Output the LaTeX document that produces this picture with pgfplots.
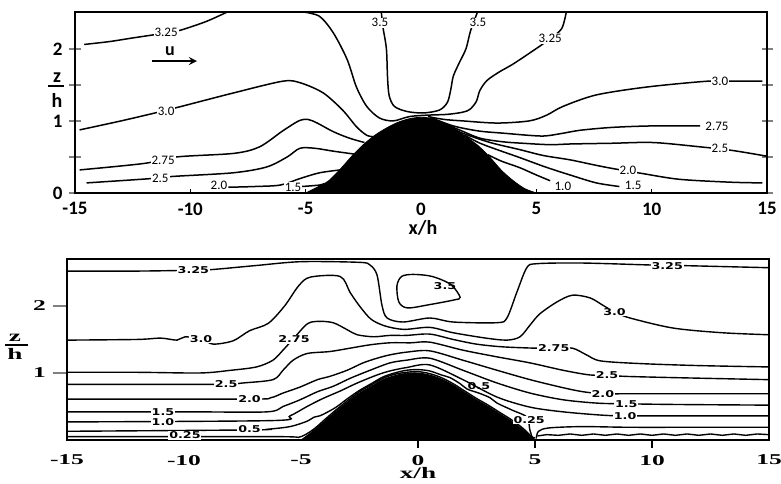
\documentclass[border=0pt]{standalone}
\usepackage{pgfplots}
\pgfplotsset{compat=1.18}
\usepackage{fontspec}
\setmainfont{Carlito}
\newfontfamily\wserif[FakeStretch=1.7]{Liberation Serif}
\newfontfamily\wsans[FakeStretch=1.35]{DejaVu Sans}
\begin{document}
\begin{tikzpicture}[>=stealth]
\useasboundingbox (0,0) rectangle (390.5pt,241.5pt);
\tikzset{
 cl/.style={black, line width=0.75pt, smooth, tension=0.5, mark=none},
 cb/.style={black, line width=0.7pt, smooth, tension=0.5, mark=none},
 lt/.style={fill=white, inner sep=0.5pt, font=\fontsize{6.5}{7}\selectfont},
 lb/.style={fill=white, inner sep=0.4pt, font=\wsans\bfseries\fontsize{4.7}{5}\selectfont},
}
% ---------------- TOP ----------------
\begin{axis}[
 at={(37.5pt,145pt)}, anchor=south west, scale only axis, width=346pt, height=90.5pt,
 xmin=-15, xmax=15, ymin=0, ymax=2.51, clip=false,
 axis line style={line width=1.1pt},
 xtick={-15,-10,-5,0,5,10,15}, xticklabels={-15,-10,-5,0,5,10,15}, xtick style={draw=none},
 ytick={0,0.5,1,1.5,2}, yticklabels={0,,1,,2}, ytick pos=both, yticklabel pos=left,
 tick align=center, major tick length=5.5pt, ytick style={line width=0.8pt},
 tick label style={font=\bfseries\fontsize{9.5}{10}\selectfont},
 xticklabel style={yshift=1.5pt},
 /pgf/number format/assume math mode=true,
]
% 3.25 left
\addplot[cl] coordinates {(-14.6,2.06) (-13.5,2.1) (-12.5,2.15) (-11.05,2.22) (-10.4,2.26) (-9.3,2.38) (-8.4,2.51)};
% 3.25 U (outer)
\addplot[cl] coordinates {(-5.1,2.51) (-4.4,2.45) (-3.8,2.22) (-3.2,1.85) (-2.8,1.47) (-2.35,1.2) (-1.8,1.04) (-1.2,1.0) (-0.5,1.06) (0.3,1.08) (1.13,1.09) (1.8,1.12) (2.12,1.16) (2.4,1.27) (2.55,1.42) (2.86,1.56) (3.4,1.68) (4.0,1.79) (5.03,2.01) (5.6,2.14) (6.1,2.28) (6.3,2.51)};
% 3.5 U
\addplot[cl] coordinates {(-1.72,2.51) (-1.65,2.3) (-1.5,2.0) (-1.45,1.6) (-1.38,1.35) (-1.15,1.2) (-0.6,1.13) (0.1,1.11) (0.8,1.15) (1.15,1.26) (1.3,1.45) (1.4,1.62) (1.65,1.8) (1.95,2.0) (2.15,2.25) (2.45,2.51)};
% 3.0
\addplot[cl] coordinates {(-14.8,0.875) (-13,1.0) (-11.4,1.12) (-10.4,1.2) (-8.1,1.39) (-6.0,1.55) (-5.25,1.53) (-4.25,1.39) (-3.4,1.15) (-2.8,0.92) (-2.35,0.8) (-2.0,0.78)};
\addplot[cl] coordinates {(0.3,1.06) (1.0,1.02) (1.8,1.0) (3.3,0.97) (4.7,1.0) (5.45,1.08) (6.15,1.2) (7.6,1.36) (9.8,1.47) (12.4,1.55) (13.5,1.55) (14.8,1.55)};
% 2.75
\addplot[cl] coordinates {(-14.8,0.32) (-12.0,0.41) (-10.6,0.5) (-8.1,0.55) (-7.0,0.64) (-6.0,0.86) (-5.3,1.0) (-4.9,1.02) (-4.5,0.97) (-3.8,0.85) (-3.1,0.76) (-2.45,0.7)};
\addplot[cl] coordinates {(0.4,1.05) (1.4,0.93) (2.5,0.86) (3.55,0.83) (5.2,0.79) (6.0,0.82) (6.9,0.87) (8.3,0.91) (10,0.93) (12.1,0.93)};
% 2.5
\addplot[cl] coordinates {(-14.5,0.14) (-11.7,0.2) (-10.75,0.23) (-8.15,0.28) (-6.7,0.36) (-5.8,0.5) (-5.25,0.62) (-4.6,0.62) (-3.8,0.58) (-2.9,0.54)};
\addplot[cl] coordinates {(0.5,1.03) (1.1,0.95) (1.7,0.87) (2.56,0.76) (3.55,0.71) (4.4,0.69) (5.6,0.67) (6.5,0.68) (8.3,0.69) (10.06,0.7) (12.1,0.64) (13.5,0.59) (15,0.51)};
% 2.0
\addplot[cl] coordinates {(-8.35,0.08) (-7.2,0.09) (-6.1,0.11) (-5.25,0.2) (-4.4,0.28) (-3.5,0.32)};
\addplot[cl] coordinates {(0.6,1.01) (1.0,0.95) (1.8,0.83) (3.0,0.7) (4.3,0.6) (5.3,0.52) (6.46,0.46) (7.5,0.39) (8.3,0.34) (9.6,0.27) (11.2,0.19) (13.4,0.15) (14.8,0.14)};
% 1.5
\addplot[cl] coordinates {(-5.16,0.09) (-4.4,0.11) (-4.2,0.13)};
\addplot[cl] coordinates {(1.9,0.8) (2.56,0.69) (3.4,0.59) (4.29,0.49) (5.4,0.36) (6.46,0.25) (7.6,0.14) (8.6,0.09)};
% 1.0
\addplot[cl] coordinates {(2.9,0.53) (3.5,0.44) (4.29,0.35) (5.0,0.25) (5.6,0.17)};
% hill
\addplot[fill=black, draw=black, smooth, tension=0.5] coordinates {(-5,0) (-4.5,0.08) (-4,0.17) (-3.5,0.33) (-3,0.51) (-2.5,0.67) (-2,0.8) (-1.5,0.9) (-1,0.98) (-0.5,1.03) (0,1.05) (0.5,1.03) (1,0.96) (1.5,0.88) (2,0.77) (2.5,0.65) (3,0.49) (3.5,0.31) (4,0.17) (4.5,0.06) (5,0)} \closedcycle;
% small x ticks
\draw[line width=0.8pt] (axis cs:-10,0) -- (axis cs:-10,0.05);
\draw[line width=0.8pt] (axis cs:-5,0) -- (axis cs:-5,0.05);
\draw[line width=0.8pt] (axis cs:5,0) -- (axis cs:5,0.05);
\draw[line width=0.8pt] (axis cs:10,0) -- (axis cs:10,0.05);
% labels
\node[lt] at (axis cs:-11.05,2.23) {3.25};
\node[lt] at (axis cs:-1.78,2.36) {3.5};
\node[lt] at (axis cs:2.47,2.36) {3.5};
\node[lt] at (axis cs:5.6,2.14) {3.25};
\node[lt] at (axis cs:-11.05,1.13) {3.0};
\node[lt] at (axis cs:12.96,1.55) {3.0};
\node[lt] at (axis cs:-11.18,0.45) {2.75};
\node[lt] at (axis cs:12.83,0.93) {2.75};
\node[lt] at (axis cs:-11.3,0.21) {2.5};
\node[lt] at (axis cs:12.96,0.62) {2.5};
\node[lt] at (axis cs:-8.76,0.1) {2.0};
\node[lt] at (axis cs:8.97,0.31) {2.0};
\node[lt] at (axis cs:-5.55,0.08) {1.5};
\node[lt] at (axis cs:9.2,0.1) {1.5};
\node[lt] at (axis cs:6.15,0.09) {1.0};
% u arrow
\draw[->, line width=0.8pt] (axis cs:-11.66,1.83) -- (axis cs:-9.71,1.83);
\node[font=\bfseries\fontsize{9}{9}\selectfont] at (axis cs:-10.88,1.96) {u};
\end{axis}
% ---------------- BOTTOM ----------------
\begin{axis}[
 at={(33.5pt,21.5pt)}, anchor=south west, scale only axis, width=351pt, height=90.5pt,
 xmin=-15, xmax=15, ymin=0, ymax=2.7, clip=false,
 axis line style={line width=0.9pt},
 xtick={-15,-10,-5,0,5,10,15}, xticklabels={-15,-10,-5,0,5,10,15}, xtick style={draw=none},
 ytick={1,2}, yticklabels={1,2}, ytick pos=left, tick align=outside, major tick length=7pt,
 ytick style={line width=0.8pt},
 tick label style={font=\wserif\bfseries\fontsize{7.5}{8}\selectfont},
 xticklabel style={yshift=3pt},
 /pgf/number format/assume math mode=true,
]
% 3.25
\addplot[cb] coordinates {(-15,2.52) (-12,2.52) (-10,2.53) (-8.9,2.54) (-7,2.6) (-5,2.66) (-2.5,2.65) (-2.05,2.61) (-1.75,2.46) (-1.54,2.01) (-1.32,1.82) (-0.64,1.76) (0.51,1.82) (1.5,1.76) (3.38,1.75) (3.8,1.82) (4.23,2.21) (4.65,2.57) (5.08,2.63) (7,2.64) (10,2.61) (11.5,2.6) (15,2.57)};
% 3.5 loop
\addplot[cb, smooth cycle] coordinates {(-0.9,2.3) (-0.7,2.44) (-0.2,2.47) (0.6,2.44) (1.4,2.32) (1.8,2.13) (1.55,2.09) (0.5,2.02) (-0.45,1.97) (-0.82,2.06)};
% 3.0
\addplot[cb] coordinates {(-15,1.49) (-12,1.5) (-11,1.52) (-10.3,1.49) (-9.95,1.54) (-9.2,1.5) (-8.75,1.43) (-7.9,1.48) (-7.2,1.63) (-6.4,1.74) (-5.7,2.0) (-5.1,2.3) (-4.6,2.43) (-3.33,2.44) (-2.9,2.2) (-2.48,1.99) (-2.0,1.8) (-1.4,1.7) (-0.6,1.65) (0.5,1.68) (1.5,1.6) (2.9,1.52) (3.8,1.49) (4.36,1.54) (4.8,1.72) (5.2,1.88) (5.94,2.06) (6.6,2.16) (7.35,2.12) (7.9,2.01) (8.4,1.91) (9.06,1.82) (10.9,1.67) (13,1.6) (15,1.57)};
% 2.75
\addplot[cb] coordinates {(-15,1.01) (-12,1.01) (-9.3,1.0) (-8,1.04) (-6.9,1.09) (-6.2,1.19) (-5.77,1.34) (-5.3,1.52) (-4.74,1.73) (-4.3,1.77) (-3.63,1.75) (-3.0,1.64) (-2.6,1.57) (-1.9,1.54) (-1.2,1.56) (-0.5,1.56) (0.5,1.58) (1.5,1.5) (2.5,1.43) (3.6,1.39) (5.0,1.37) (5.8,1.37) (6.6,1.37) (7.2,1.27) (7.8,1.18) (9.5,1.14) (12,1.11) (15,1.09)};
% 2.5
\addplot[cb] coordinates {(-15,0.83) (-10,0.83) (-8.16,0.83) (-7.5,0.85) (-6.2,0.9) (-5.77,1.04) (-5.34,1.19) (-4.74,1.29) (-3.76,1.32) (-2.9,1.37) (-2.05,1.42) (-1.2,1.45) (-0.3,1.45) (0.5,1.46) (1.92,1.34) (3.38,1.24) (4.79,1.15) (6.2,1.04) (7.35,0.97) (8.1,0.97) (8.8,0.95) (11,0.93) (15,0.9)};
% 2.0
\addplot[cb] coordinates {(-15,0.61) (-7.2,0.61) (-6.3,0.63) (-5.77,0.7) (-5.04,0.79) (-4.3,0.9) (-3.76,0.95) (-3.03,1.04) (-2.35,1.15) (-1.75,1.22) (-1.2,1.27) (-0.5,1.31) (0.5,1.33) (1.92,1.19) (3.38,1.04) (4.79,0.9) (6.2,0.78) (7.05,0.72) (7.9,0.69) (9,0.69) (12,0.69) (15,0.69)};
% 1.5
\addplot[cb] coordinates {(-15,0.42) (-9.74,0.42) (-6.45,0.42) (-5.77,0.5) (-5.04,0.6) (-4.3,0.72) (-3.63,0.8) (-2.9,0.92) (-2.05,1.04) (-1.2,1.15) (-0.5,1.19) (0.5,1.22) (1.92,1.04) (3.38,0.85) (4.79,0.7) (6.2,0.6) (7.65,0.55) (8.9,0.54) (11,0.53) (15,0.52)};
% 1.0
\addplot[cb] coordinates {(-15,0.27) (-6.2,0.29) (-5.47,0.36) (-4.74,0.5) (-4.06,0.62) (-3.33,0.73) (-2.6,0.85) (-1.75,0.97) (-1.2,1.03) (-0.5,1.08) (0.5,1.12) (1.92,0.9) (3.38,0.64) (4.79,0.49) (6.2,0.42) (7.9,0.37) (9,0.36) (12,0.36) (15,0.36)};
% 0.5
\addplot[cb] coordinates {(-15,0.13) (-7.2,0.15) (-6.45,0.16) (-5.47,0.2) (-4.74,0.28) (-4.45,0.34) (-4.2,0.36) (-3.9,0.41) (-3.5,0.49) (-3,0.62) (-2.5,0.74) (-2,0.84) (-1.5,0.94) (-1,1.0) (-0.5,1.04) (0,1.05) (0.5,1.03) (1.0,0.97) (1.37,0.93) (1.8,0.84) (2.1,0.76) (2.6,0.7) (3.08,0.63) (3.38,0.55) (4.06,0.44) (4.66,0.34) (4.78,0.15) (4.9,0.02)};
\addplot[cb] coordinates {(5.05,0.02) (5.15,0.13) (5.6,0.18) (7,0.2) (9,0.19) (12,0.19) (15,0.19)};
% 0.25
\addplot[cb] coordinates {(-15,0.05) (-6,0.05) (-5.1,0.04) (-4.5,0.15) (-4,0.3) (-3.5,0.45) (-3,0.59) (-2.5,0.72) (-2,0.82) (-1.5,0.92) (-1,0.98) (-0.5,1.01) (0,1.02) (0.5,0.99) (1,0.93) (1.5,0.84) (2,0.73) (2.5,0.62) (3,0.52) (3.5,0.41) (4,0.3) (4.5,0.17) (4.85,0.05) (5,0.03)};
\addplot[black, line width=0.7pt, mark=none] coordinates {(5.1,0.06) (5.5,0.08) (6,0.07) (6.5,0.09) (7,0.07) (7.5,0.09) (8,0.07) (8.5,0.09) (9,0.07) (9.5,0.09) (10,0.07) (10.5,0.09) (11,0.07) (11.5,0.09) (12,0.07) (12.5,0.09) (13,0.07) (13.5,0.09) (14,0.07) (14.5,0.09) (15,0.08)};
% hill
\addplot[fill=black, draw=black, smooth, tension=0.5] coordinates {(-5,0) (-4.5,0.13) (-4,0.28) (-3.5,0.43) (-3,0.57) (-2.5,0.7) (-2,0.8) (-1.5,0.9) (-1,0.96) (-0.5,0.995) (0,1.0) (0.5,0.97) (1,0.91) (1.5,0.82) (2,0.71) (2.5,0.6) (3,0.5) (3.5,0.39) (4,0.28) (4.5,0.15) (5,0)} \closedcycle;
% x ticks
\draw[line width=0.8pt] (axis cs:0,0) -- (axis cs:0,-0.12);
\draw[line width=0.8pt] (axis cs:5,0) -- (axis cs:5,-0.12);
\draw[line width=0.8pt] (axis cs:10,0) -- (axis cs:10,-0.12);
% labels
\node[lb] at (axis cs:-9.6,2.53) {3.25};
\node[lb] at (axis cs:10.65,2.59) {3.25};
\node[lb, fill=none] at (axis cs:1.15,2.3) {3.5};
\node[lb] at (axis cs:-9.27,1.51) {3.0};
\node[lb] at (axis cs:8.4,1.91) {3.0};
\node[lb] at (axis cs:-5.3,1.5) {2.75};
\node[lb] at (axis cs:5.8,1.37) {2.75};
\node[lb] at (axis cs:-8.2,0.83) {2.5};
\node[lb] at (axis cs:8.08,0.97) {2.5};
\node[lb] at (axis cs:-7.2,0.61) {2.0};
\node[lb] at (axis cs:7.9,0.69) {2.0};
\node[lb] at (axis cs:-10.9,0.42) {1.5};
\node[lb] at (axis cs:8.9,0.54) {1.5};
\node[lb] at (axis cs:-10.9,0.27) {1.0};
\node[lb] at (axis cs:8.85,0.36) {1.0};
\node[lb] at (axis cs:-7.2,0.16) {0.5};
\node[lb, fill=none] at (axis cs:2.6,0.8) {0.5};
\node[lb] at (axis cs:-9.96,0.07) {0.25};
\node[lb] at (axis cs:4.75,0.3) {0.25};
\end{axis}
% axis labels
\node[font=\bfseries\fontsize{10}{11}\selectfont, inner sep=1pt] at (211.5pt,127.5pt) {x/h};
\node[font=\bfseries\fontsize{10}{10}\selectfont, inner sep=0pt] at (28.5pt,202.5pt) {z};
\draw[line width=0.8pt] (24pt,198.5pt) -- (32pt,198.5pt);
\node[font=\bfseries\fontsize{10}{10}\selectfont, inner sep=0pt] at (28.5pt,191.5pt) {h};
\node[font=\wserif\bfseries\fontsize{8}{9}\selectfont, inner sep=1pt] at (209pt,5pt) {x/h};
\node[font=\wserif\bfseries\fontsize{8}{8}\selectfont, inner sep=0pt] at (7.5pt,72.5pt) {z};
\draw[line width=0.8pt] (2.5pt,69pt) -- (14pt,69pt);
\node[font=\wserif\bfseries\fontsize{8}{8}\selectfont, inner sep=0pt] at (7.5pt,64.5pt) {h};
\end{tikzpicture}
\end{document}
